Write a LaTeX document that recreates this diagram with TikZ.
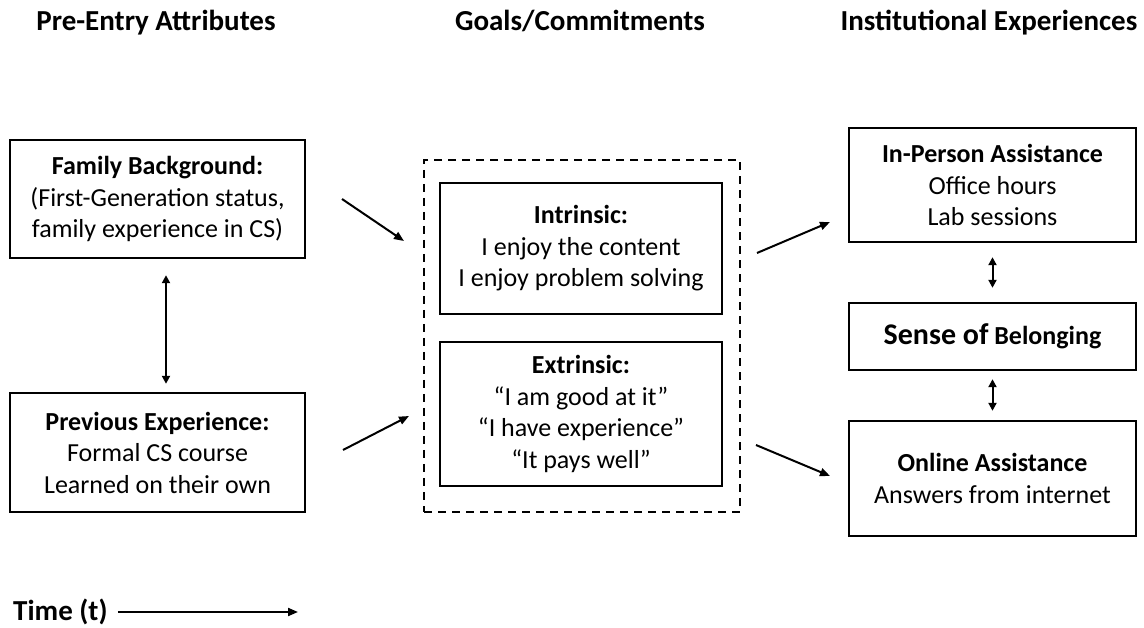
\documentclass[tikz,border=0pt]{standalone}
\usepackage{fontspec}
\setmainfont{Carlito}
\usetikzlibrary{arrows.meta}
\begin{document}
\begin{tikzpicture}[x=1pt,y=-1pt,
  box/.style={draw=black,line width=2.4pt,align=center,inner sep=0pt,font=\fontsize{26}{31.5}\selectfont},
  dashbox/.style={draw=black,line width=2pt,dash pattern=on 8pt off 6pt,inner sep=0pt},
  head/.style={font=\fontsize{29}{34}\selectfont\bfseries,inner sep=0pt},
  arr/.style={line width=2pt,-{Triangle[length=10pt,width=8pt]}},
  darr/.style={line width=2pt,{Triangle[length=8pt,width=8pt]}-{Triangle[length=8pt,width=8pt]}}]
\useasboundingbox (0,0) rectangle (1144,628);
% headers
\node[head,anchor=base] (h1) at (156,31) {Pre-Entry Attributes};
\node[head,anchor=base] (h2) at (580,31) {Goals/Commitments};
\node[head,anchor=base] (h3) at (989,31) {Institutional Experiences};
% left column
\node[box,minimum width=295pt,minimum height=118pt] (fam) at (157.5,199)
  {\textbf{Family Background:}\\(First-Generation status,\\family experience in CS)};
\node[box,minimum width=295pt,minimum height=119pt] (prev) at (157.5,452.5)
  {\textbf{Previous Experience:}\\Formal CS course\\Learned on their own};
% middle
\node[dashbox,minimum width=316pt,minimum height=352pt] (dash) at (582,336) {};
\node[box,minimum width=282pt,minimum height=131pt] (intr) at (581,248.5)
  {\textbf{Intrinsic:}\\I enjoy the content\\I enjoy problem solving};
\node[box,minimum width=282pt,minimum height=144pt] (extr) at (581,414)
  {\textbf{Extrinsic:}\\“I am good at it”\\“I have experience”\\“It pays well”};
% right column
\node[box,minimum width=287pt,minimum height=114pt] (inp) at (992.5,185)
  {\textbf{In-Person Assistance}\\Office hours\\Lab sessions};
\node[box,minimum width=287pt,minimum height=67pt] (sob) at (992.5,336.5)
  {\textbf{{\fontsize{30}{31}\selectfont Sense of} Belonging}};
\node[box,minimum width=287pt,minimum height=115pt] (onl) at (992.5,478.5)
  {\textbf{Online Assistance}\\Answers from internet};
% arrow end points
\coordinate (a1s) at (342,199);
\coordinate (a1e) at (404,241);
\coordinate (a2s) at (343,450);
\coordinate (a2e) at (409,416);
\coordinate (a3s) at (757,253);
\coordinate (a3e) at (830,222);
\coordinate (a4s) at (756,445);
\coordinate (a4e) at (830,476);
\coordinate (v1s) at ([xshift=8.5pt,yshift=-16pt]fam.south);
\coordinate (v1e) at ([xshift=8.5pt,yshift=8pt]prev.north);
\draw[arr] (a1s) -- (a1e);
\draw[arr] (a2s) -- (a2e);
\draw[arr] (a3s) -- (a3e);
\draw[arr] (a4s) -- (a4e);
\draw[darr] (v1s) -- (v1e);
\draw[darr,shorten <=14pt,shorten >=14pt] (inp.south) -- (sob.north);
\draw[darr,shorten <=8pt,shorten >=9pt] (sob.south) -- (onl.north);
% time
\node[head,anchor=west] (time) at (13,612) {Time (t)};
\coordinate (tend) at (298,612);
\draw[arr] ([xshift=10pt]time.east) -- (tend);
\end{tikzpicture}
\end{document}
